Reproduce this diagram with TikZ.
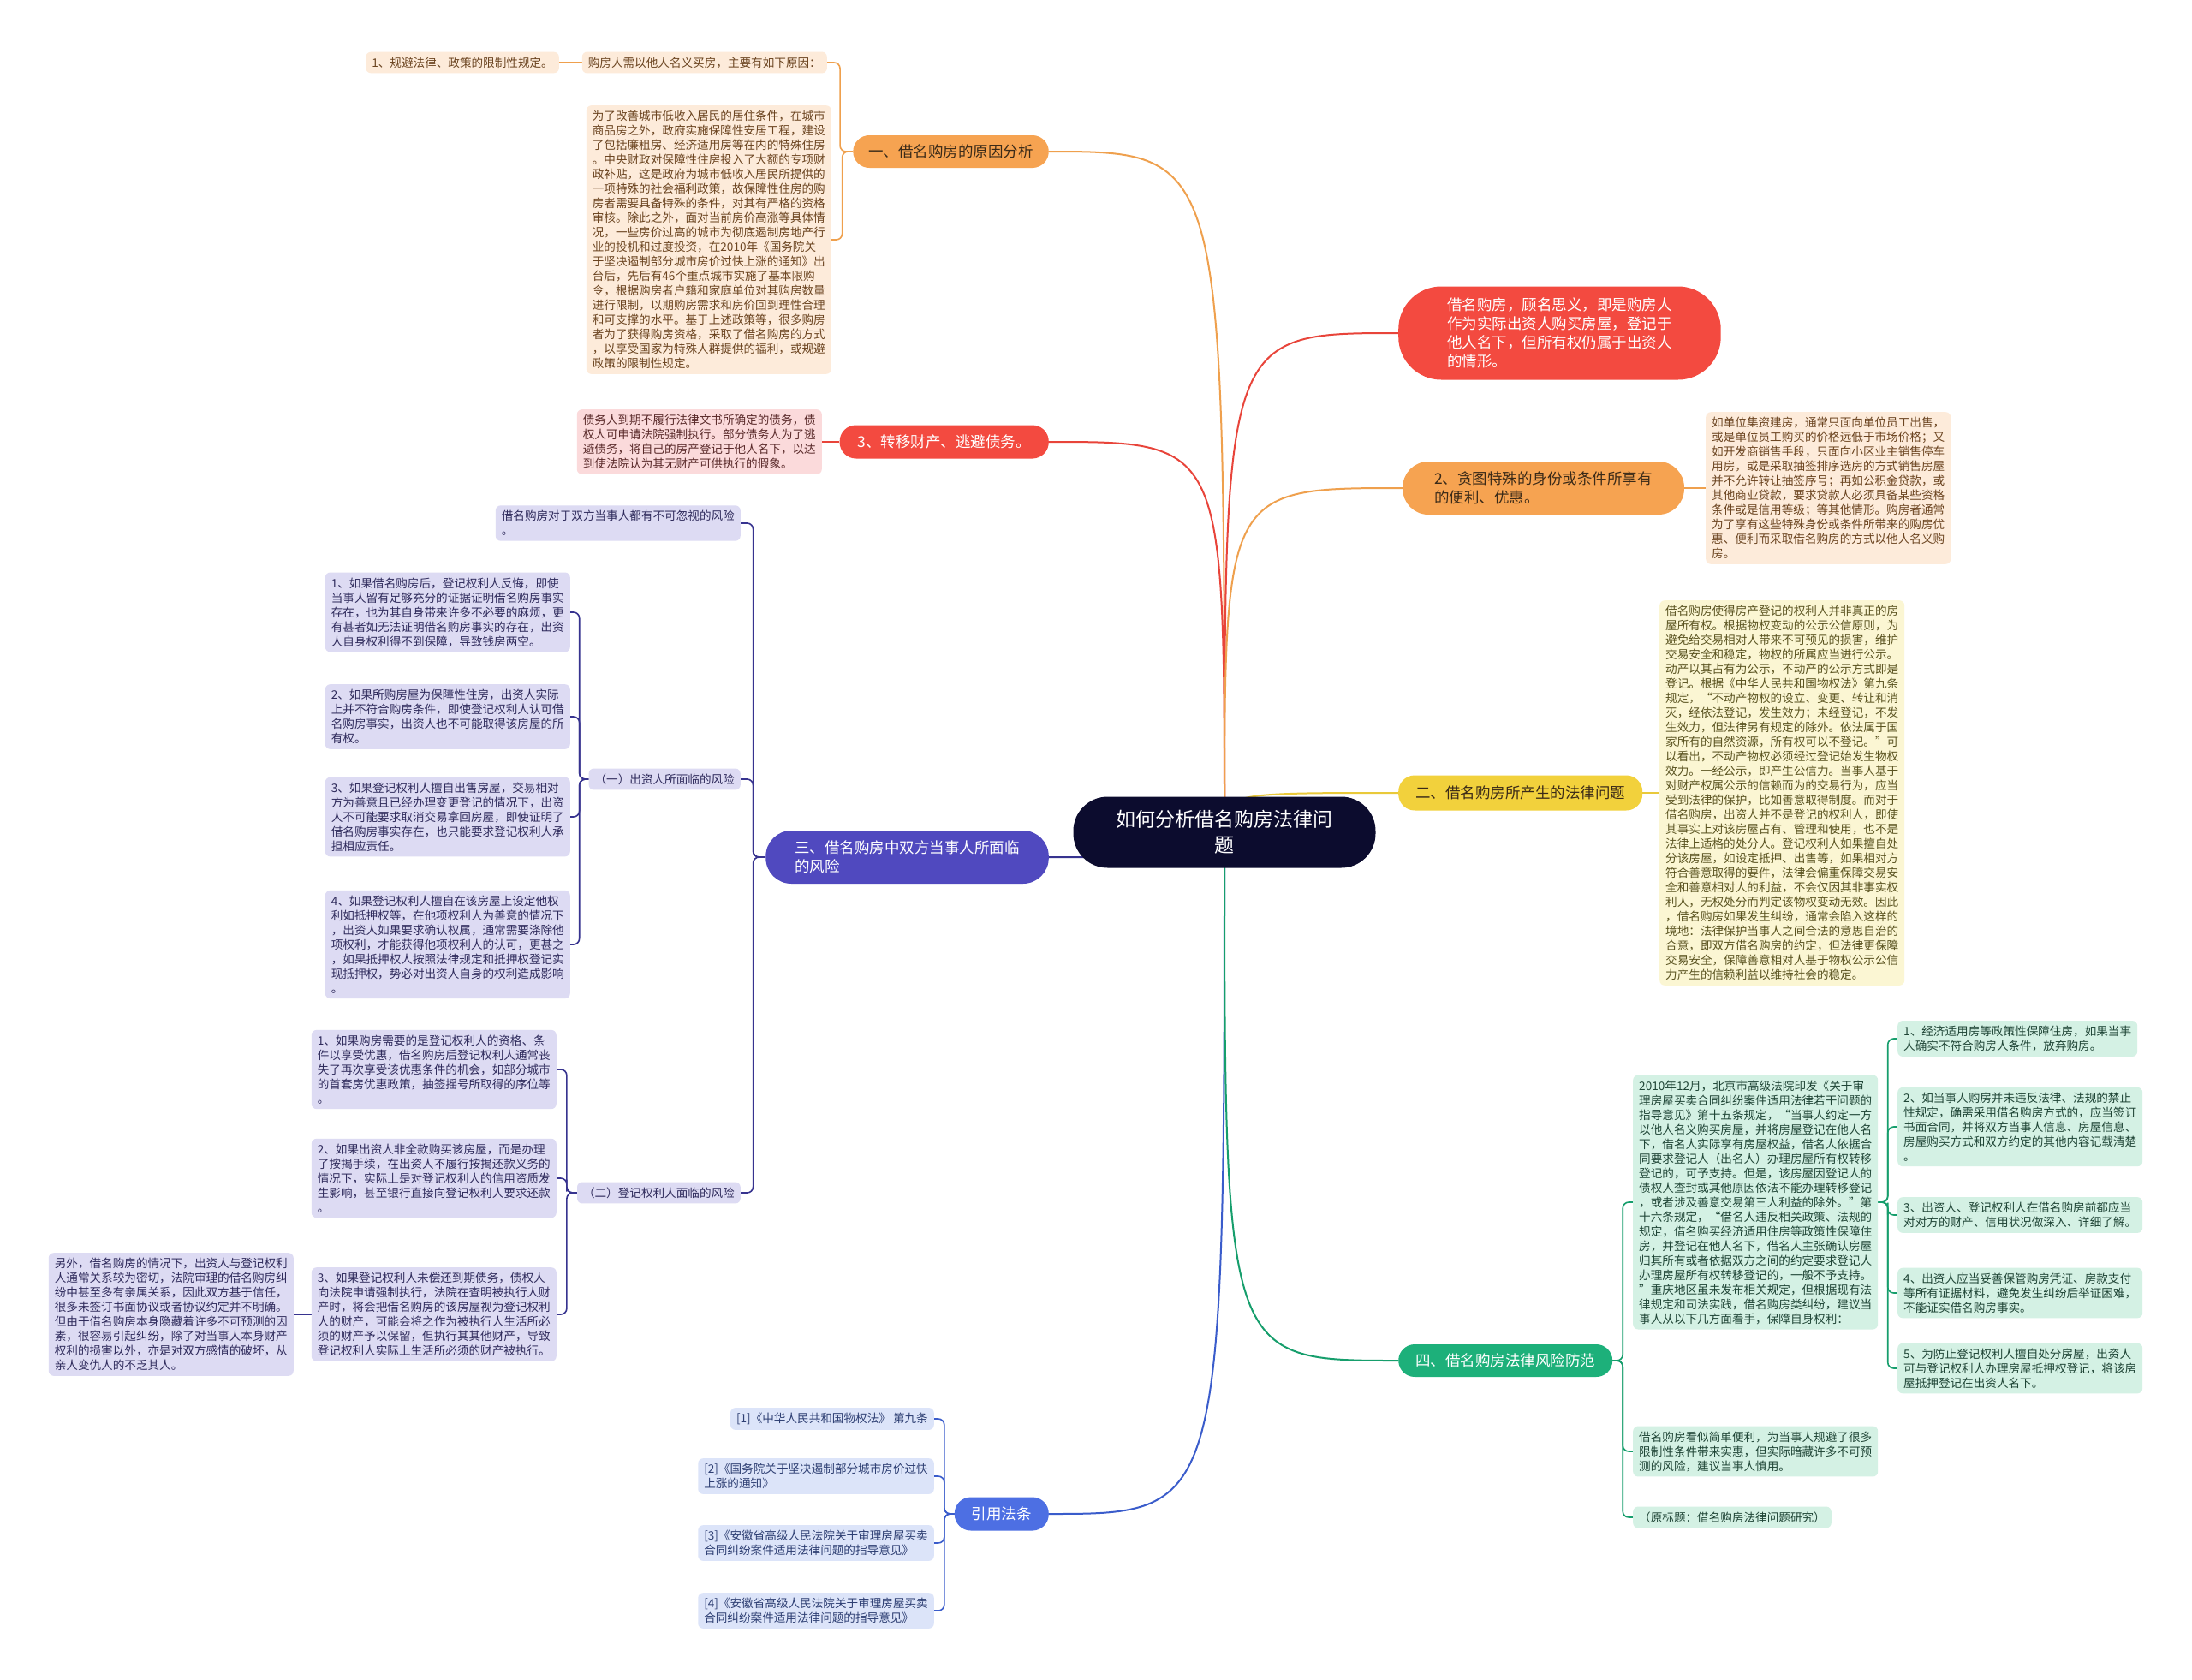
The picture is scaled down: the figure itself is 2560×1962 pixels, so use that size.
\documentclass[tikz,border=0pt]{standalone}
\usepackage{fontspec}
\setmainfont{Noto Sans CJK SC}
\usepackage{xcolor}
\usepackage{tikz}
\usetikzlibrary{positioning,calc,backgrounds}
\definecolor{rootbg}{HTML}{0C0C2E}
\definecolor{orng}{HTML}{F6A351}
\definecolor{orngln}{HTML}{EFA04D}
\definecolor{redd}{HTML}{F34A40}
\definecolor{redln}{HTML}{E8443A}
\definecolor{indg}{HTML}{5049BF}
\definecolor{indgln}{HTML}{37338F}
\definecolor{blu}{HTML}{4D6FE3}
\definecolor{bluln}{HTML}{3A5CCB}
\definecolor{yelw}{HTML}{F2D13C}
\definecolor{yelwln}{HTML}{E9C93A}
\definecolor{grn}{HTML}{1DB07A}
\definecolor{grnln}{HTML}{169E6C}
\definecolor{darktx}{HTML}{3A2A18}
\definecolor{peachbg}{HTML}{FDEBDA}
\definecolor{peachtx}{HTML}{6B4420}
\definecolor{pinkbg}{HTML}{FBDADB}
\definecolor{pinktx}{HTML}{5A2A2A}
\definecolor{lemonbg}{HTML}{FBF6D3}
\definecolor{lemontx}{HTML}{5A5320}
\definecolor{lavbg}{HTML}{DDDBF3}
\definecolor{lavtx}{HTML}{2F2B5C}
\definecolor{skybg}{HTML}{DCE4F9}
\definecolor{skytx}{HTML}{2E3F73}
\definecolor{mintbg}{HTML}{D4F1E4}
\definecolor{minttx}{HTML}{1F4536}

\begin{document}
\begin{tikzpicture}[x=1pt, y=-1pt,
  box/.style={rounded corners=6pt, inner xsep=7pt, inner ysep=6pt, align=left,
    font=\fontsize{13.6}{17}\selectfont},
  peach/.style={box, fill=peachbg, text=peachtx},
  pink/.style={box, fill=pinkbg, text=pinktx},
  lemon/.style={box, fill=lemonbg, text=lemontx},
  lav/.style={box, fill=lavbg, text=lavtx},
  sky/.style={box, fill=skybg, text=skytx},
  mint/.style={box, fill=mintbg, text=minttx},
  pill/.style={rounded corners=#1, align=left, inner ysep=0pt,
    font=\fontsize{17.5}{22}\selectfont},
  pill/.default=19pt,
  elbow/.style={line width=1.6pt, rounded corners=7pt,
    to path={-| ($(\tikztostart)!.5!(\tikztotarget)$) |- (\tikztotarget)}},
  trunk/.style={line width=2pt}]
  \useasboundingbox (0,0) rectangle (2560,1962);

  \node[pill=40pt, fill=rootbg, text=white, align=center, inner xsep=50pt, minimum height=83pt,
    font=\fontsize{23}{30}\selectfont] (root) at (1430,972) {如何分析借名购房法律问\\题};

  % left branches
  \node[pill, fill=orng, text=darktx, anchor=east, inner xsep=18pt, minimum height=38pt] (why) at (1225,177) {一、借名购房的原因分析};
  \node[pill, fill=redd, text=white, anchor=east, inner xsep=21pt, minimum height=39pt] (dodge) at (1225,516) {3、转移财产、逃避债务。};
  \node[pill=30pt, fill=indg, text=white, anchor=east, inner xsep=34pt, minimum height=62pt] (risk) at (1225,1001) {三、借名购房中双方当事人所面临\\的风险};
  \node[pill, fill=blu, text=white, anchor=east, inner xsep=20pt, minimum height=39pt] (cite) at (1225,1768) {引用法条};

  % right branches
  \node[pill=50pt, fill=redd, text=white, anchor=west, inner xsep=57pt, minimum height=109pt] (defn) at (1633,389) {借名购房，顾名思义，即是购房人\\作为实际出资人购买房屋，登记于\\他人名下，但所有权仍属于出资人\\的情形。};
  \node[pill=30pt, fill=orng, text=darktx, anchor=west, inner xsep=37pt, minimum height=62pt] (perk) at (1638,570) {2、贪图特殊的身份或条件所享有\\的便利、优惠。};
  \node[pill, fill=yelw, text=darktx, anchor=west, inner xsep=20pt, minimum height=41pt] (issue) at (1633,926) {二、借名购房所产生的法律问题};
  \node[pill, fill=grn, text=white, anchor=west, inner xsep=20pt, minimum height=38pt] (guard) at (1633,1589) {四、借名购房法律风险防范};

  % why
  \node[peach, anchor=east] (why0) at (966,73) {购房人需以他人名义买房，主要有如下原因：};
  \node[peach, anchor=east] (why01) at (653,73) {1、规避法律、政策的限制性规定。};
  \node[peach, anchor=east] (why2) at (971,280) {为了改善城市低收入居民的居住条件，在城市\\商品房之外，政府实施保障性安居工程，建设\\了包括廉租房、经济适用房等在内的特殊住房\\。中央财政对保障性住房投入了大额的专项财\\政补贴，这是政府为城市低收入居民所提供的\\一项特殊的社会福利政策，故保障性住房的购\\房者需要具备特殊的条件，对其有严格的资格\\审核。除此之外，面对当前房价高涨等具体情\\况，一些房价过高的城市为彻底遏制房地产行\\业的投机和过度投资，在2010年《国务院关\\于坚决遏制部分城市房价过快上涨的通知》出\\台后，先后有46个重点城市实施了基本限购\\令，根据购房者户籍和家庭单位对其购房数量\\进行限制，以期购房需求和房价回到理性合理\\和可支撑的水平。基于上述政策等，很多购房\\者为了获得购房资格，采取了借名购房的方式\\，以享受国家为特殊人群提供的福利，或规避\\政策的限制性规定。};

  % dodge
  \node[pink, anchor=east] (dodge1) at (960,516) {债务人到期不履行法律文书所确定的债务，债\\权人可申请法院强制执行。部分债务人为了逃\\避债务，将自己的房产登记于他人名下，以达\\到使法院认为其无财产可供执行的假象。};

  % risk
  \node[lav, anchor=east] (risk0) at (865,611) {借名购房对于双方当事人都有不可忽视的风险\\。};
  \node[lav, anchor=east] (risk1) at (865,910) {（一）出资人所面临的风险};
  \node[lav, anchor=east] (risk2) at (865,1393) {（二）登记权利人面临的风险};
  \node[lav, anchor=east] (risk11) at (666,715) {1、如果借名购房后，登记权利人反悔，即使\\当事人留有足够充分的证据证明借名购房事实\\存在，也为其自身带来许多不必要的麻烦，更\\有甚者如无法证明借名购房事实的存在，出资\\人自身权利得不到保障，导致钱房两空。};
  \node[lav, anchor=east] (risk12) at (666,837) {2、如果所购房屋为保障性住房，出资人实际\\上并不符合购房条件，即使登记权利人认可借\\名购房事实，出资人也不可能取得该房屋的所\\有权。};
  \node[lav, anchor=east] (risk13) at (666,954) {3、如果登记权利人擅自出售房屋，交易相对\\方为善意且已经办理变更登记的情况下，出资\\人不可能要求取消交易拿回房屋，即使证明了\\借名购房事实存在，也只能要求登记权利人承\\担相应责任。};
  \node[lav, anchor=east] (risk14) at (666,1103) {4、如果登记权利人擅自在该房屋上设定他权\\利如抵押权等，在他项权利人为善意的情况下\\，出资人如果要求确认权属，通常需要涤除他\\项权利，才能获得他项权利人的认可，更甚之\\，如果抵押权人按照法律规定和抵押权登记实\\现抵押权，势必对出资人自身的权利造成影响\\。};
  \node[lav, anchor=east] (risk21) at (650,1249) {1、如果购房需要的是登记权利人的资格、条\\件以享受优惠，借名购房后登记权利人通常丧\\失了再次享受该优惠条件的机会，如部分城市\\的首套房优惠政策，抽签摇号所取得的序位等\\。};
  \node[lav, anchor=east] (risk22) at (650,1376) {2、如果出资人非全款购买该房屋，而是办理\\了按揭手续，在出资人不履行按揭还款义务的\\情况下，实际上是对登记权利人的信用资质发\\生影响，甚至银行直接向登记权利人要求还款\\。};
  \node[lav, anchor=east] (risk23) at (650,1535) {3、如果登记权利人未偿还到期债务，债权人\\向法院申请强制执行，法院在查明被执行人财\\产时，将会把借名购房的该房屋视为登记权利\\人的财产，可能会将之作为被执行人生活所必\\须的财产予以保留，但执行其其他财产，导致\\登记权利人实际上生活所必须的财产被执行。};
  \node[lav, anchor=east] (risk231) at (343,1535) {另外，借名购房的情况下，出资人与登记权利\\人通常关系较为密切，法院审理的借名购房纠\\纷中甚至多有亲属关系，因此双方基于信任，\\很多未签订书面协议或者协议约定并不明确。\\但由于借名购房本身隐藏着许多不可预测的因\\素，很容易引起纠纷，除了对当事人本身财产\\权利的损害以外，亦是对双方感情的破坏，从\\亲人变仇人的不乏其人。};

  % cite
  \node[sky, anchor=east] (cite1) at (1091,1657) {[1]《中华人民共和国物权法》 第九条};
  \node[sky, anchor=east] (cite2) at (1091,1724) {[2]《国务院关于坚决遏制部分城市房价过快\\上涨的通知》};
  \node[sky, anchor=east] (cite3) at (1091,1802) {[3]《安徽省高级人民法院关于审理房屋买卖\\合同纠纷案件适用法律问题的指导意见》};
  \node[sky, anchor=east] (cite4) at (1091,1881) {[4]《安徽省高级人民法院关于审理房屋买卖\\合同纠纷案件适用法律问题的指导意见》};

  % perk, issue
  \node[peach, anchor=west] (perk1) at (1992,570) {如单位集资建房，通常只面向单位员工出售，\\或是单位员工购买的价格远低于市场价格；又\\如开发商销售手段，只面向小区业主销售停车\\用房，或是采取抽签排序选房的方式销售房屋\\并不允许转让抽签序号；再如公积金贷款，或\\其他商业贷款，要求贷款人必须具备某些资格\\条件或是信用等级；等其他情形。购房者通常\\为了享有这些特殊身份或条件所带来的购房优\\惠、便利而采取借名购房的方式以他人名义购\\房。};
  \node[lemon, anchor=west] (issue1) at (1938,926) {借名购房使得房产登记的权利人并非真正的房\\屋所有权。根据物权变动的公示公信原则，为\\避免给交易相对人带来不可预见的损害，维护\\交易安全和稳定，物权的所属应当进行公示。\\动产以其占有为公示，不动产的公示方式即是\\登记。根据《中华人民共和国物权法》第九条\\规定，“不动产物权的设立、变更、转让和消\\灭，经依法登记，发生效力；未经登记，不发\\生效力，但法律另有规定的除外。依法属于国\\家所有的自然资源，所有权可以不登记。”可\\以看出，不动产物权必须经过登记始发生物权\\效力。一经公示，即产生公信力。当事人基于\\对财产权属公示的信赖而为的交易行为，应当\\受到法律的保护，比如善意取得制度。而对于\\借名购房，出资人并不是登记的权利人，即使\\其事实上对该房屋占有、管理和使用，也不是\\法律上适格的处分人。登记权利人如果擅自处\\分该房屋，如设定抵押、出售等，如果相对方\\符合善意取得的要件，法律会偏重保障交易安\\全和善意相对人的利益，不会仅因其非事实权\\利人，无权处分而判定该物权变动无效。因此\\，借名购房如果发生纠纷，通常会陷入这样的\\境地：法律保护当事人之间合法的意思自治的\\合意，即双方借名购房的约定，但法律更保障\\交易安全，保障善意相对人基于物权公示公信\\力产生的信赖利益以维持社会的稳定。};

  % guard
  \node[mint, anchor=west] (guard1) at (1907,1404) {2010年12月，北京市高级法院印发《关于审\\理房屋买卖合同纠纷案件适用法律若干问题的\\指导意见》第十五条规定，“当事人约定一方\\以他人名义购买房屋，并将房屋登记在他人名\\下，借名人实际享有房屋权益，借名人依据合\\同要求登记人（出名人）办理房屋所有权转移\\登记的，可予支持。但是，该房屋因登记人的\\债权人查封或其他原因依法不能办理转移登记\\，或者涉及善意交易第三人利益的除外。”第\\十六条规定，“借名人违反相关政策、法规的\\规定，借名购买经济适用住房等政策性保障住\\房，并登记在他人名下，借名人主张确认房屋\\归其所有或者依据双方之间的约定要求登记人\\办理房屋所有权转移登记的，一般不予支持。\\”重庆地区虽未发布相关规定，但根据现有法\\律规定和司法实践，借名购房类纠纷，建议当\\事人从以下几方面着手，保障自身权利：};
  \node[mint, anchor=west] (guard2) at (1907,1695) {借名购房看似简单便利，为当事人规避了很多\\限制性条件带来实惠，但实际暗藏许多不可预\\测的风险，建议当事人慎用。};
  \node[mint, anchor=west] (guard3) at (1907,1772) {（原标题：借名购房法律问题研究）};
  \node[mint, anchor=west] (tip1) at (2216,1213) {1、经济适用房等政策性保障住房，如果当事\\人确实不符合购房人条件，放弃购房。};
  \node[mint, anchor=west] (tip2) at (2216,1316) {2、如当事人购房并未违反法律、法规的禁止\\性规定，确需采用借名购房方式的，应当签订\\书面合同，并将双方当事人信息、房屋信息、\\房屋购买方式和双方约定的其他内容记载清楚\\。};
  \node[mint, anchor=west] (tip3) at (2216,1419) {3、出资人、登记权利人在借名购房前都应当\\对对方的财产、信用状况做深入、详细了解。};
  \node[mint, anchor=west] (tip4) at (2216,1510) {4、出资人应当妥善保管购房凭证、房款支付\\等所有证据材料，避免发生纠纷后举证困难，\\不能证实借名购房事实。};
  \node[mint, anchor=west] (tip5) at (2216,1598) {5、为防止登记权利人擅自处分房屋，出资人\\可与登记权利人办理房屋抵押权登记，将该房\\屋抵押登记在出资人名下。};

  \begin{scope}[on background layer]
    \fill[white] (0,0) rectangle (2560,1962);
    \foreach \b/\c in {why/orngln, dodge/redln, risk/indgln, cite/bluln}
      \draw[trunk, \c] (root.center) .. controls (root.center |- \b.east) .. (\b.east);
    \foreach \b/\c in {defn/redln, perk/orngln, issue/yelwln, guard/grnln}
      \draw[trunk, \c] (root.center) .. controls (root.center |- \b.west) .. (\b.west);
    \foreach \k in {why0,why2} \draw[elbow, orngln] (why.west) to (\k.east);
    \draw[line width=1.6pt, orngln] (why0.west) -- (why01.east);
    \draw[line width=1.6pt, redln] (dodge.west) -- (dodge1.east);
    \foreach \k in {risk0,risk1,risk2} \draw[elbow, indgln] (risk.west) to (\k.east);
    \foreach \k in {1,...,4} \draw[elbow, indgln] (risk1.west) to (risk1\k.east);
    \foreach \k in {1,...,3} \draw[elbow, indgln] (risk2.west) to (risk2\k.east);
    \draw[line width=1.6pt, indgln] (risk23.west) -- (risk231.east);
    \foreach \k in {1,...,4} \draw[elbow, bluln] (cite.west) to (cite\k.east);
    \draw[line width=1.6pt, orngln] (perk.east) -- (perk1.west);
    \draw[line width=1.6pt, yelwln] (issue.east) -- (issue1.west);
    \foreach \k in {1,...,3} \draw[elbow, grnln] (guard.east) to (guard\k.west);
    \foreach \k in {1,...,5} \draw[elbow, grnln] (guard1.east) to (tip\k.west);
  \end{scope}
\end{tikzpicture}
\end{document}
